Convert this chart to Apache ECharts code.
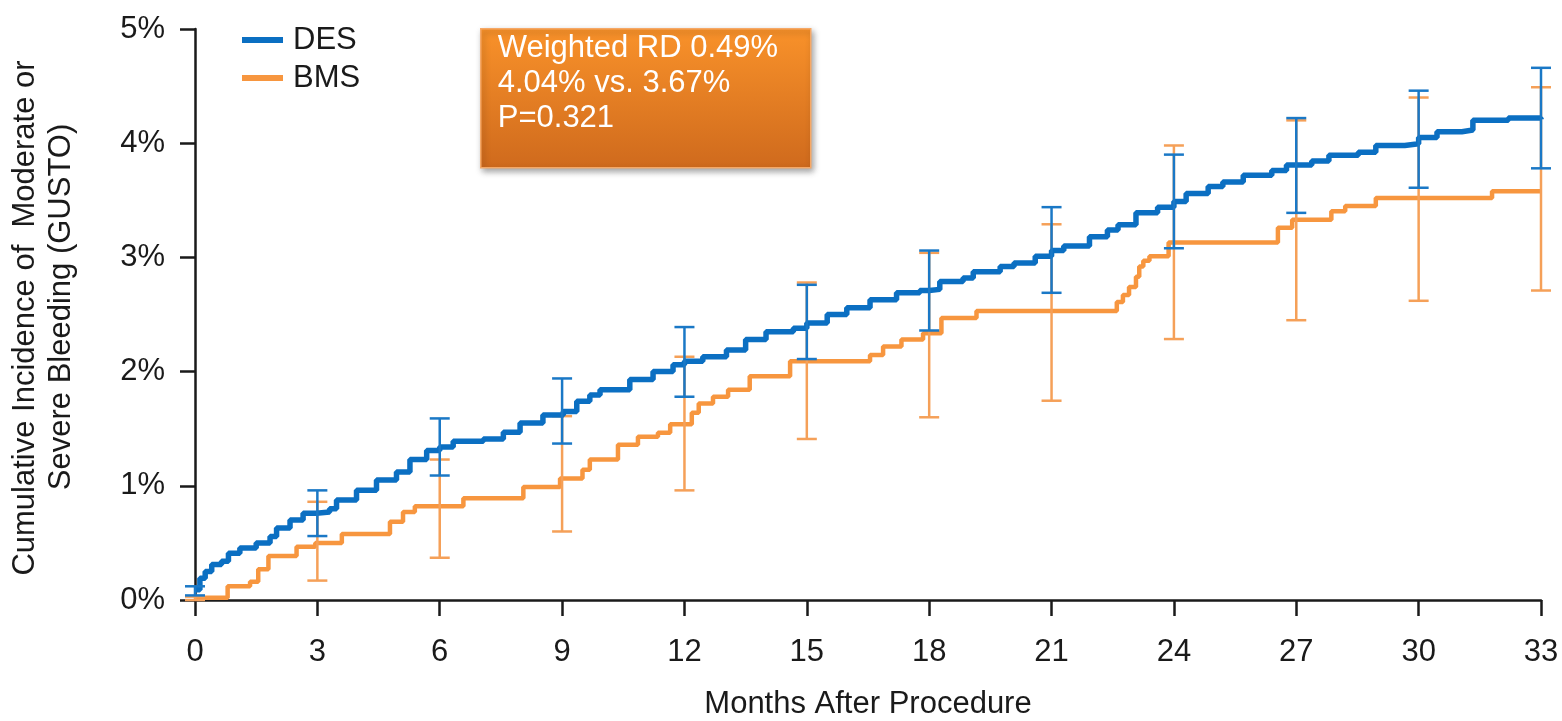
<!DOCTYPE html>
<html>
<head>
<meta charset="utf-8">
<title>Cumulative Incidence of Moderate or Severe Bleeding (GUSTO)</title>
<script src="https://cdn.jsdelivr.net/npm/echarts@6/dist/echarts.min.js"></script>
<style>
  html, body { margin: 0; padding: 0; background: #ffffff; }
  #chart { width: 1562px; height: 721px; }
</style>
</head>
<body>
<div id="chart"></div>
<script>
// Kaplan-Meier style cumulative incidence, [month, percent]; each point is where the curve steps to the new level
const desCurve = [
  [0, 0.09], [0.12, 0.19], [0.25, 0.25], [0.41, 0.31], [0.65, 0.34], [0.82, 0.41], [1.1, 0.455],
  [1.5, 0.5], [1.84, 0.555], [2.0, 0.63], [2.33, 0.70], [2.65, 0.76], [2.98, 0.77], [3.3, 0.80],
  [3.47, 0.875], [3.96, 0.96], [4.45, 1.05], [4.94, 1.12], [5.27, 1.23], [5.68, 1.31], [6.0, 1.34],
  [6.33, 1.39], [7.07, 1.41], [7.56, 1.47], [7.97, 1.55], [8.53, 1.62], [9.03, 1.65], [9.36, 1.74],
  [9.68, 1.795], [9.93, 1.84], [10.66, 1.93], [11.23, 2.0], [11.72, 2.06], [12.0, 2.09], [12.45, 2.13],
  [13.03, 2.19], [13.5, 2.28], [14.0, 2.35], [14.67, 2.38], [15.0, 2.425], [15.5, 2.50], [15.98, 2.56],
  [16.55, 2.63], [17.2, 2.69], [17.77, 2.71], [18.0, 2.72], [18.26, 2.79], [18.83, 2.82], [19.08, 2.875],
  [19.74, 2.92], [20.08, 2.95], [20.6, 3.01], [21.0, 3.06], [21.3, 3.10], [21.93, 3.18], [22.37, 3.24],
  [22.63, 3.285], [23.07, 3.39], [23.6, 3.44], [24.0, 3.49], [24.3, 3.56], [24.84, 3.62], [25.2, 3.66],
  [25.7, 3.72], [26.4, 3.76], [26.76, 3.81], [27.38, 3.845], [27.8, 3.895], [28.52, 3.92], [28.95, 3.98],
  [29.66, 3.995], [30.0, 4.05], [30.45, 4.10], [31.06, 4.115], [31.33, 4.20], [32.2, 4.22], [33.0, 4.21]
];

const bmsCurve = [
  [0, 0.02], [0.8, 0.12], [1.35, 0.16], [1.55, 0.27], [1.8, 0.385], [2.49, 0.467], [2.95, 0.50],
  [3.6, 0.578], [4.78, 0.686], [5.1, 0.77], [5.39, 0.82], [6.58, 0.89], [8.05, 0.99], [8.95, 1.065],
  [9.5, 1.14], [9.68, 1.23], [10.37, 1.36], [10.86, 1.43], [11.35, 1.465], [11.65, 1.54], [12.18, 1.64],
  [12.35, 1.72], [12.7, 1.78], [13.07, 1.84], [13.6, 1.96], [14.59, 2.09], [16.55, 2.145], [16.87, 2.22],
  [17.32, 2.28], [17.85, 2.335], [18.3, 2.47], [19.16, 2.53], [22.6, 2.61], [22.75, 2.67], [22.9, 2.74],
  [23.07, 2.83], [23.15, 2.92], [23.25, 2.97], [23.4, 3.01], [23.87, 3.13], [26.55, 3.26], [26.9, 3.33],
  [27.86, 3.405], [28.2, 3.45], [28.95, 3.52], [31.8, 3.58], [33.0, 3.58]
];

// 95% confidence intervals at each landmark month
const ciMonths = [0, 3, 6, 9, 12, 15, 18, 21, 24, 27, 30, 33];
const desLow  = [0.04, 0.56, 1.09, 1.37, 1.78, 2.11, 2.36, 2.69, 3.08, 3.39, 3.61, 3.78];
const desHigh = [0.12, 0.96, 1.59, 1.94, 2.39, 2.76, 3.06, 3.44, 3.90, 4.22, 4.46, 4.66];
const bmsLow  = [0.00, 0.17, 0.37, 0.60, 0.96, 1.41, 1.60, 1.745, 2.285, 2.45, 2.62, 2.71];
const bmsHigh = [0.03, 0.86, 1.23, 1.61, 2.13, 2.78, 3.04, 3.29, 3.98, 4.20, 4.40, 4.49];

const seriesNames = ['DES', 'BMS'];
const yAxisTitle = ['Cumulative Incidence of  Moderate or', 'Severe Bleeding (GUSTO)'];
const xAxisTitle = 'Months After Procedure';
const statLines = ['Weighted RD 0.49%', '4.04% vs. 3.67%', 'P=0.321'];

const FONT = '"Liberation Sans", Arial, Helvetica, sans-serif';
const TEXT = '#1a1a1a';
const BLUE = '#0b6fc2';
const BLUE_BAR = '#1a78c6';
const ORANGE = '#f7963f';
const ORANGE_BAR = '#f5a058';

function ciData(lows, highs) {
  return ciMonths.map((m, i) => [m, lows[i], highs[i]]);
}

// vertical interval with a cap at both ends
function errorBar(color, width, capWidth) {
  return function (params, api) {
    const m = api.value(0);
    const lo = api.coord([m, api.value(1)]);
    const hi = api.coord([m, api.value(2)]);
    const h = capWidth / 2;
    const style = { stroke: color, lineWidth: width };
    return {
      type: 'group',
      children: [
        { type: 'line', shape: { x1: lo[0], y1: lo[1], x2: hi[0], y2: hi[1] }, style: style },
        { type: 'line', shape: { x1: lo[0] - h, y1: lo[1], x2: lo[0] + h, y2: lo[1] }, style: style },
        { type: 'line', shape: { x1: hi[0] - h, y1: hi[1], x2: hi[0] + h, y2: hi[1] }, style: style }
      ]
    };
  };
}

const chart = echarts.init(document.getElementById('chart'), null, { renderer: 'canvas' });

chart.setOption({
  backgroundColor: '#ffffff',
  animation: false,
  textStyle: { fontFamily: FONT },
  grid: { left: 195, right: 21, top: 29, bottom: 121, containLabel: false, outerBoundsMode: 'none' },
  legend: {
    data: [
      { name: seriesNames[0], icon: 'rect', itemStyle: { color: BLUE } },
      { name: seriesNames[1], icon: 'rect', itemStyle: { color: ORANGE } }
    ],
    orient: 'vertical',
    left: 237,
    top: 17,
    itemWidth: 41,
    itemHeight: 6,
    itemGap: 2,
    textStyle: { fontFamily: FONT, fontSize: 31, color: TEXT, lineHeight: 36, padding: [0, 0, 0, 5] }
  },
  xAxis: {
    type: 'value',
    min: 0,
    max: 33,
    interval: 3,
    name: xAxisTitle,
    nameLocation: 'middle',
    nameGap: 89,
    nameTextStyle: { fontFamily: FONT, fontSize: 31, color: TEXT },
    axisLine: { onZero: false, lineStyle: { color: '#1a1a1a', width: 2.5 } },
    axisTick: { show: true, inside: false, length: 16, lineStyle: { color: '#1a1a1a', width: 2.5 } },
    axisLabel: { fontFamily: FONT, fontSize: 31, color: TEXT, margin: 37 },
    splitLine: { show: false }
  },
  yAxis: {
    type: 'value',
    min: 0,
    max: 5,
    interval: 1,
    axisLine: { show: true, lineStyle: { color: '#1a1a1a', width: 2.5 } },
    axisTick: { show: true, inside: false, length: 15, lineStyle: { color: '#1a1a1a', width: 2.5 } },
    axisLabel: { fontFamily: FONT, fontSize: 31, color: TEXT, margin: 30, formatter: '{value}%' },
    splitLine: { show: false }
  },
  graphic: [
    {
      type: 'text',
      x: 25,
      y: 318,
      rotation: Math.PI / 2,
      style: { text: yAxisTitle[0], fill: TEXT, font: '31px ' + FONT, textAlign: 'center', textVerticalAlign: 'middle' }
    },
    {
      type: 'text',
      x: 61,
      y: 307,
      rotation: Math.PI / 2,
      style: { text: yAxisTitle[1], fill: TEXT, font: '31px ' + FONT, textAlign: 'center', textVerticalAlign: 'middle' }
    },
    {
      type: 'group',
      left: 480,
      top: 28,
      children: [
        {
          type: 'rect',
          shape: { x: 0, y: 0, width: 330, height: 139 },
          style: {
            fill: new echarts.graphic.LinearGradient(0, 0, 0, 1, [
              { offset: 0, color: '#f9922a' },
              { offset: 1, color: '#cf6a1d' }
            ]),
            stroke: '#f6a866',
            lineWidth: 1.5,
            shadowBlur: 6,
            shadowOffsetX: 2,
            shadowOffsetY: 3,
            shadowColor: 'rgba(0,0,0,0.35)'
          }
        },
        {
          type: 'text',
          x: 17,
          y: 20,
          style: { text: statLines[0], fill: '#ffffff', font: '31px ' + FONT, textVerticalAlign: 'middle' }
        },
        {
          type: 'text',
          x: 17,
          y: 55,
          style: { text: statLines[1], fill: '#ffffff', font: '31px ' + FONT, textVerticalAlign: 'middle' }
        },
        {
          type: 'text',
          x: 17,
          y: 90,
          style: { text: statLines[2], fill: '#ffffff', font: '31px ' + FONT, textVerticalAlign: 'middle' }
        }
      ]
    }
  ],
  series: [
    {
      name: seriesNames[1],
      type: 'line',
      step: 'end',
      symbol: 'none',
      data: bmsCurve,
      lineStyle: { color: ORANGE, width: 4.5 },
      itemStyle: { color: ORANGE },
      z: 2
    },
    {
      name: 'BMS CI',
      type: 'custom',
      renderItem: errorBar(ORANGE_BAR, 2.5, 20),
      data: ciData(bmsLow, bmsHigh),
      encode: { x: 0, y: [1, 2] },
      z: 3
    },
    {
      name: seriesNames[0],
      type: 'line',
      step: 'end',
      symbol: 'none',
      data: desCurve,
      lineStyle: { color: BLUE, width: 5.5 },
      itemStyle: { color: BLUE },
      z: 4
    },
    {
      name: 'DES CI',
      type: 'custom',
      renderItem: errorBar(BLUE_BAR, 2.5, 20),
      data: ciData(desLow, desHigh),
      encode: { x: 0, y: [1, 2] },
      z: 5
    }
  ]
});
</script>
</body>
</html>
